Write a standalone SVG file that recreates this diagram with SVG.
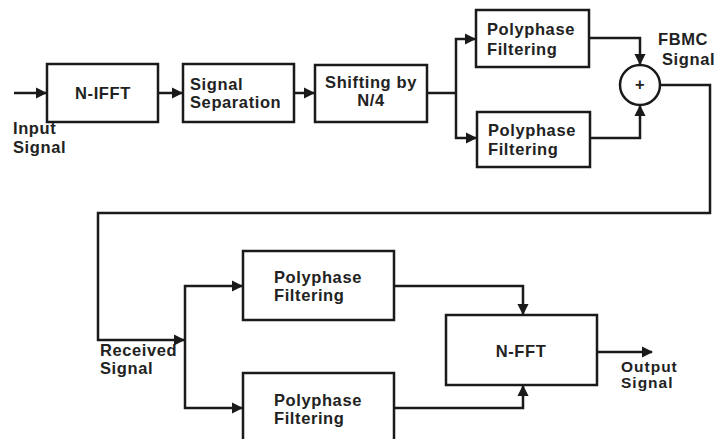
<svg xmlns="http://www.w3.org/2000/svg" width="714" height="439" viewBox="0 0 714 439">
<style>
.box{fill:#fff;stroke:#1a1a1a;stroke-width:2.5}
.ln{fill:none;stroke:#1a1a1a;stroke-width:2.5;stroke-linejoin:miter}
.t{font-family:"Liberation Sans",Arial,sans-serif;font-weight:bold;font-size:16.5px;letter-spacing:0.6px;fill:#222}
.s{font-size:15.5px;letter-spacing:1px}
</style>
<defs>
<marker id="ah" viewBox="0 0 10 10" refX="9" refY="5" markerWidth="4.5" markerHeight="4.5" orient="auto" markerUnits="strokeWidth">
<path d="M0,0L10,5L0,10z" fill="#1a1a1a"/>
</marker>
</defs>
<rect width="714" height="439" fill="#fff"/>
<g id="connectors">
<path class="ln" d="M14,93H46" marker-end="url(#ah)"/>
<path class="ln" d="M158,93H182" marker-end="url(#ah)"/>
<path class="ln" d="M294,93H314" marker-end="url(#ah)"/>
<path class="ln" d="M427,93H456"/>
<path class="ln" d="M456,93V39H475" marker-end="url(#ah)"/>
<path class="ln" d="M456,93V138H476" marker-end="url(#ah)"/>
<path class="ln" d="M589,38H640V64" marker-end="url(#ah)"/>
<path class="ln" d="M590,138H640V106" marker-end="url(#ah)"/>
<path class="ln" d="M660,85H710V213H98V340H184" marker-end="url(#ah)"/>
<path class="ln" d="M185,340V286H242" marker-end="url(#ah)"/>
<path class="ln" d="M185,340V408H242" marker-end="url(#ah)"/>
<path class="ln" d="M394,286H523V314" marker-end="url(#ah)"/>
<path class="ln" d="M394,408H523V386" marker-end="url(#ah)"/>
<path class="ln" d="M597,352H652" marker-end="url(#ah)"/>
</g>
<g id="input-label">
<text class="t" x="13" y="134">Input</text>
<text class="t" x="13" y="153">Signal</text>
</g>
<g id="n-ifft">
<rect class="box" x="47" y="64" width="111" height="58"/>
<text class="t" x="103" y="99" text-anchor="middle">N-IFFT</text>
</g>
<g id="signal-separation">
<rect class="box" x="183" y="64" width="111" height="58"/>
<text class="t" x="190" y="90">Signal</text>
<text class="t" x="190" y="108">Separation</text>
</g>
<g id="shifting">
<rect class="box" x="315" y="65" width="112" height="57"/>
<text class="t" x="371" y="88" text-anchor="middle">Shifting by</text>
<text class="t" x="371" y="106" text-anchor="middle">N/4</text>
</g>
<g id="poly-tx-1">
<rect class="box" x="476" y="10" width="113" height="57"/>
<text class="t" x="487" y="35">Polyphase</text>
<text class="t" x="487" y="55">Filtering</text>
</g>
<g id="poly-tx-2">
<rect class="box" x="477" y="112" width="113" height="55"/>
<text class="t" x="488" y="136">Polyphase</text>
<text class="t" x="488" y="155">Filtering</text>
</g>
<g id="sum">
<circle class="box" cx="640" cy="85" r="20"/>
<text class="t" x="640" y="90" text-anchor="middle" font-size="12">+</text>
</g>
<g id="fbmc-label">
<text class="t" x="658" y="45">FBMC</text>
<text class="t" x="662" y="65">Signal</text>
</g>
<g id="received-label">
<text class="t" x="100" y="356">Received</text>
<text class="t" x="100" y="374">Signal</text>
</g>
<g id="poly-rx-1">
<rect class="box" x="243" y="251" width="151" height="69"/>
<text class="t" x="274" y="283">Polyphase</text>
<text class="t" x="274" y="301">Filtering</text>
</g>
<g id="poly-rx-2">
<rect class="box" x="243" y="373" width="151" height="80"/>
<text class="t" x="274" y="406">Polyphase</text>
<text class="t" x="274" y="424">Filtering</text>
</g>
<g id="n-fft">
<rect class="box" x="446" y="315" width="151" height="70"/>
<text class="t" x="521" y="357" text-anchor="middle">N-FFT</text>
</g>
<g id="output-label">
<text class="t s" x="621" y="372">Output</text>
<text class="t s" x="621" y="388">Signal</text>
</g>
</svg>
